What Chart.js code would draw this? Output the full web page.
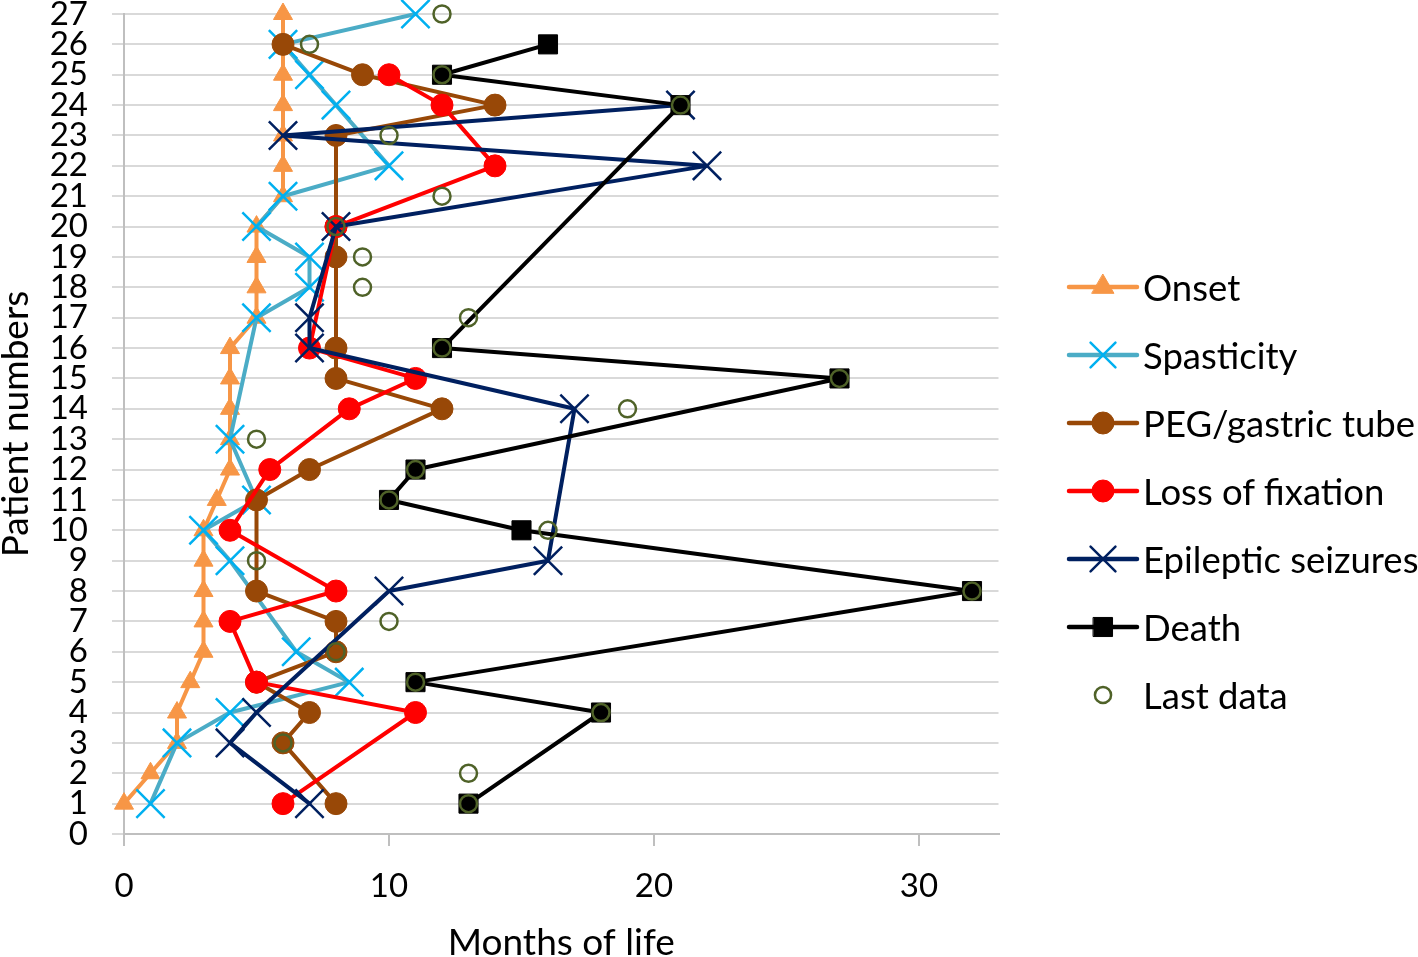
<!DOCTYPE html>
<html>
<head>
<meta charset="utf-8">
<script src="https://cdn.jsdelivr.net/npm/chart.js@4.4.1/dist/chart.umd.min.js"></script>
<style>
html,body{margin:0;padding:0;background:#fff;}
#wrap{position:relative;width:1418px;height:957px;overflow:hidden;background:#fff;}
#chart{position:absolute;left:0;top:0;}
#legend{position:absolute;left:0;top:0;width:1418px;height:957px;font-family:Lato,"Open Sans",sans-serif;font-size:36.5px;color:#000;}
.item{position:absolute;left:1064px;height:40px;white-space:nowrap;}
.item canvas{position:absolute;left:0;top:0;}
.item span{position:absolute;left:79px;top:0;line-height:40px;}
</style>
</head>
<body>
<div id="wrap">
<canvas id="chart" width="1418" height="957"></canvas>
<div id="legend"></div>
</div>
<script>
// ---- data (months of life per patient; null = no event) ----
const patients   = [1,2,3,4,5,6,7,8,9,10,11,12,13,14,15,16,17,18,19,20,21,22,23,24,25,26,27];
const onset      = [0,1,2,2,2.5,3,3,3,3,3,3.5,4,4,4,4,4,5,5,5,5,6,6,6,6,6,6,6];
const spasticity = [1,null,2,4,8.5,6.5,null,null,4,3,5,null,4,null,null,null,5,7,7,5,6,10,null,8,7,6,11];
const pegTube    = [8,null,6,7,5,8,8,5,null,null,5,7,null,12,8,8,null,null,8,8,null,null,8,14,9,6,null];
const fixation   = [6,null,null,11,5,null,4,8,null,4,null,5.5,null,8.5,11,7,null,null,null,8,null,14,null,12,10,null,null];
const seizures   = [7,null,4,5,null,null,null,10,16,null,null,null,null,17,null,7,7,null,null,8,null,22,6,21,null,null,null];
const death      = [13,null,null,18,11,null,null,32,null,15,10,11,null,null,27,12,null,null,null,null,null,null,null,21,12,16,null];
const lastData   = [13,13,6,18,11,8,10,32,5,16,10,11,5,19,27,12,13,9,9,8,12,null,10,21,12,7,12];
const seriesNames = ['Onset','Spasticity','PEG/gastric tube','Loss of fixation','Epileptic seizures','Death','Last data'];
const seriesValues = [onset, spasticity, pegTube, fixation, seizures, death, lastData];
const xTickStep = 10, xMin = 0, xMax = 33;
const yMin = 0, yMax = 27;

// ---- styles ----
const styles = [
  {line:'#F79646', marker:'#F79646', fill:'#F79646', point:'triangle', r:11, pbw:1, showLine:true, legendScale:1.15},
  {line:'#4BACC6', marker:'#00B0F0', fill:'#00B0F0', point:'crossRot', r:20, pbw:2.5, showLine:true, legendScale:0.88},
  {line:'#984807', marker:'#984807', fill:'#984807', point:'circle', r:11, pbw:1, showLine:true, legendScale:1.0},
  {line:'#FF0000', marker:'#FF0000', fill:'#FF0000', point:'circle', r:11, pbw:1, showLine:true, legendScale:1.0},
  {line:'#002060', marker:'#002060', fill:'#002060', point:'crossRot', r:20, pbw:2.5, showLine:true, legendScale:0.88},
  {line:'#000000', marker:'#000000', fill:'#000000', point:'rect', r:13.5, pbw:1, showLine:true, legendScale:1.0},
  {line:'#4F6228', marker:'#4F6228', fill:'rgba(0,0,0,0)', point:'circle', r:8.5, pbw:2.5, showLine:false, legendScale:0.95}
];

function toPoints(values){
  return patients.map((p,i)=>({x:values[i], y:p})).filter(d=>d.x!==null);
}

const n = seriesNames.length;
const datasets = seriesNames.map((name,i)=>{
  const s = styles[i];
  return {
    label: name,
    data: toPoints(seriesValues[i]),
    showLine: s.showLine,
    borderColor: s.line,
    backgroundColor: s.fill,
    borderWidth: 4,
    borderJoinStyle: 'round',
    borderCapStyle: 'round',
    tension: 0,
    pointStyle: s.point,
    pointRadius: s.r,
    pointHoverRadius: s.r,
    pointBorderColor: s.marker,
    pointBackgroundColor: s.fill,
    pointBorderWidth: s.pbw,
    pointHoverBorderWidth: s.pbw,
    clip: false,
    order: n - i
  };
});

Chart.defaults.font.family = 'Lato, "Open Sans", sans-serif';
Chart.defaults.color = '#000';

new Chart(document.getElementById('chart'), {
  type: 'scatter',
  data: {datasets},
  options: {
    responsive: false,
    animation: false,
    events: [],
    layout: {autoPadding: false, padding: {top: 14, right: 419.5, bottom: 0, left: 0}},
    plugins: {legend: {display: false}, tooltip: {enabled: false}},
    scales: {
      x: {
        type: 'linear', min: xMin, max: xMax,
        ticks: {stepSize: xTickStep, includeBounds: false, padding: 21, color: '#000', font: {size: 33}, maxRotation: 0},
        grid: {drawOnChartArea: false, drawTicks: true, tickLength: 12, color: '#BFBFBF', lineWidth: 2},
        border: {color: '#BFBFBF', width: 2},
        title: {display: true, text: 'Months of life', color: '#000', font: {size: 37, lineHeight: 0.76}, padding: 0},
        afterFit: s => { s.height = 123; s.paddingLeft = 0; s.paddingRight = 0; }
      },
      y: {
        type: 'linear', min: yMin, max: yMax,
        ticks: {stepSize: 1, autoSkip: false, padding: 24, color: '#000', font: {size: 33}},
        grid: {color: '#D9D9D9', lineWidth: 2, tickLength: 12},
        border: {color: '#BFBFBF', width: 2},
        title: {display: true, text: 'Patient numbers', color: '#000', font: {size: 37, lineHeight: 0.86}, padding: 0},
        afterFit: s => { s.width = 124; s.paddingTop = 0; s.paddingBottom = 0; }
      }
    }
  }
});

// ---- legend (HTML, swatches drawn on small canvases) ----
function drawMarker(ctx, s, x, y, scale){
  const r = s.r * scale;
  ctx.save();
  ctx.fillStyle = s.fill; ctx.strokeStyle = s.marker; ctx.lineWidth = s.pbw;
  ctx.beginPath();
  if (s.point === 'triangle'){
    for (let k=0;k<3;k++){ const a = k*2*Math.PI/3; const px = x + Math.sin(a)*r, py = y - Math.cos(a)*r; k?ctx.lineTo(px,py):ctx.moveTo(px,py); }
    ctx.closePath(); ctx.fill(); ctx.stroke();
  } else if (s.point === 'crossRot'){
    const o = r*Math.SQRT1_2;
    ctx.moveTo(x-o,y-o); ctx.lineTo(x+o,y+o); ctx.moveTo(x+o,y-o); ctx.lineTo(x-o,y+o); ctx.stroke();
  } else if (s.point === 'rect'){
    const h = r*Math.SQRT1_2; ctx.rect(x-h,y-h,2*h,2*h); ctx.fill(); ctx.stroke();
  } else {
    ctx.arc(x,y,r,0,Math.PI*2); ctx.fill(); ctx.stroke();
  }
  ctx.restore();
}
const legend = document.getElementById('legend');
seriesNames.forEach((name,i)=>{
  const s = styles[i];
  const item = document.createElement('div');
  item.className = 'item';
  item.style.top = (287 + 68*i - 20) + 'px';
  const c = document.createElement('canvas');
  c.width = 78; c.height = 40;
  const ctx = c.getContext('2d');
  if (s.showLine){
    ctx.strokeStyle = s.line; ctx.lineWidth = 4.5; ctx.lineCap = 'round';
    ctx.beginPath(); ctx.moveTo(5,20); ctx.lineTo(73,20); ctx.stroke();
  }
  drawMarker(ctx, s, 39, 20, s.legendScale);
  item.appendChild(c);
  const t = document.createElement('span');
  t.textContent = name;
  item.appendChild(t);
  legend.appendChild(item);
});
</script>
</body>
</html>
